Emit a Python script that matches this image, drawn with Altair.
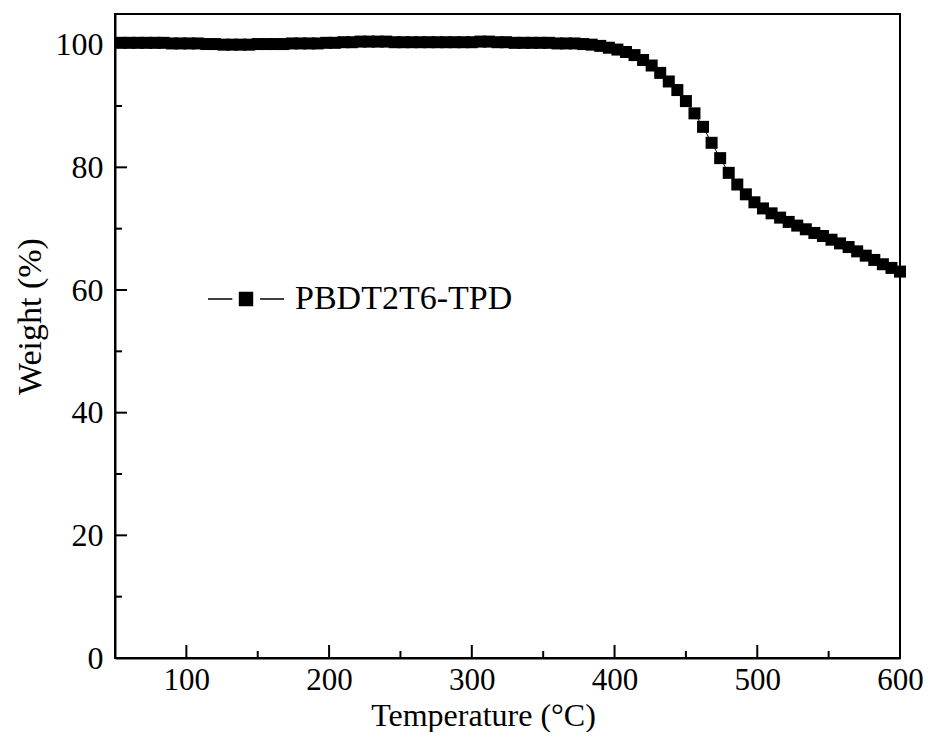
import altair as alt
import pandas as pd

temps = [54, 60, 66, 72, 78, 84, 90, 96, 102, 108, 114, 120, 126, 132, 138, 144,
         150, 156, 162, 168, 174, 180, 186, 192, 198, 204, 210, 216, 222, 228, 234,
         240, 246, 252, 258, 264, 270, 276, 282, 288, 294, 300, 306, 312, 318, 324,
         330, 336, 342, 348, 354, 360, 366, 372, 378, 384, 390, 396, 402, 408, 414,
         420, 426, 432, 438, 444, 450, 456, 462, 468, 474, 480, 486, 492, 498, 504,
         510, 516, 522, 528, 534, 540, 546, 552, 558, 564, 570, 576, 582, 588, 594, 600]
weights = [100.3, 100.3, 100.3, 100.3, 100.3, 100.3, 100.2, 100.2, 100.2, 100.2, 100.1, 100.1, 100.0, 100.0, 100.0, 100.0,
           100.1, 100.1, 100.1, 100.1, 100.2, 100.2, 100.2, 100.2, 100.3, 100.3, 100.4, 100.4, 100.5, 100.5, 100.5,
           100.5, 100.4, 100.4, 100.4, 100.4, 100.4, 100.4, 100.4, 100.4, 100.4, 100.4, 100.5, 100.5, 100.4, 100.4,
           100.3, 100.3, 100.3, 100.3, 100.3, 100.2, 100.2, 100.2, 100.1, 100.0, 99.8, 99.5, 99.2, 98.8, 98.3,
           97.5, 96.6, 95.4, 94.0, 92.6, 90.8, 88.8, 86.6, 84.0, 81.5, 79.1, 77.2, 75.6, 74.3, 73.3,
           72.5, 71.8, 71.1, 70.5, 69.9, 69.3, 68.8, 68.2, 67.6, 67.0, 66.3, 65.6, 64.9, 64.2, 63.6, 63.0]
series_name = "PBDT2T6-TPD"

x_major = [100, 200, 300, 400, 500, 600]
x_minor = [150, 250, 350, 450, 550]
y_major = [0, 20, 40, 60, 80, 100]
y_minor = [10, 30, 50, 70, 90]

df = pd.DataFrame({"T": temps, "W": weights, "series": [series_name] * len(temps)})

FONT = "Liberation Serif"
W, H = 785, 644

xs = alt.Scale(domain=[50, 600], nice=False, zero=False)
ys = alt.Scale(domain=[0, 105], nice=False)

x_axis = alt.Axis(values=x_major, ticks=False, tickSize=0, grid=False, domainColor="black",
                  domainWidth=2, labelFont=FONT, labelFontSize=31, labelColor="black",
                  labelPadding=7, title="Temperature (°C)", titleFont=FONT, titleFontSize=32,
                  titleFontWeight="normal", titleColor="black", titleX=368, titleY=67,
                  titleBaseline="alphabetic", labelFlush=False, labelOverlap=False)
y_axis = alt.Axis(values=y_major, ticks=False, tickSize=0, grid=False, domainColor="black",
                  domainWidth=2, labelFont=FONT, labelFontSize=32, labelColor="black",
                  labelPadding=12, title="Weight (%)", titleFont=FONT, titleFontSize=34,
                  titleFontWeight="normal", titleColor="black", titleX=-85, titleY=302,
                  titleBaseline="middle", titleAlign="center", titleAngle=270,
                  labelFlush=False, labelOverlap=False)

base = alt.Chart(df)
line = base.mark_line(color="black", strokeWidth=1).encode(
    x=alt.X("T:Q", scale=xs, axis=x_axis),
    y=alt.Y("W:Q", scale=ys, axis=y_axis),
)
sym = "M-1,0L-0.36,0M0.37,0L1,0M-0.17,-0.17L0.17,-0.17L0.17,0.17L-0.17,0.17Z"
pts = base.mark_square(size=144, opacity=1, filled=True).encode(
    x=alt.X("T:Q", scale=xs, axis=x_axis),
    y=alt.Y("W:Q", scale=ys, axis=y_axis),
    color=alt.Color("series:N", scale=alt.Scale(range=["black"]),
                    legend=alt.Legend(title=None, orient="none", legendX=92, legendY=246,
                                      symbolType=sym, symbolSize=5776, symbolStrokeColor="black",
                                      symbolFillColor="black", symbolStrokeWidth=1.5,
                                      labelFont=FONT, labelFontSize=34, labelColor="black",
                                      labelOffset=10, padding=0, labelLimit=400)),
)

def xticks(vals, length):
    d = pd.DataFrame({"t": vals})
    return alt.Chart(d).mark_rule(color="black", strokeWidth=2).encode(
        x=alt.X("t:Q", scale=xs, axis=x_axis),
        y=alt.value(H), y2=alt.value(H - length))

def yticks(vals, length):
    d = pd.DataFrame({"t": vals})
    return alt.Chart(d).mark_rule(color="black", strokeWidth=2).encode(
        y=alt.Y("t:Q", scale=ys, axis=y_axis),
        x=alt.value(0), x2=alt.value(length))

chart = alt.layer(
    line, pts,
    xticks(x_major, 13), xticks(x_minor, 7),
    yticks(y_major, 12), yticks(y_minor, 7),
).properties(
    width=W, height=H,
    autosize=alt.AutoSizeParams(type="none"),
    padding={"left": 107, "top": 6, "right": 24, "bottom": 74},
    background="white",
).configure_view(stroke="black", strokeWidth=2)

chart.save("out.html", embed_options={"renderer": "svg", "actions": False})
